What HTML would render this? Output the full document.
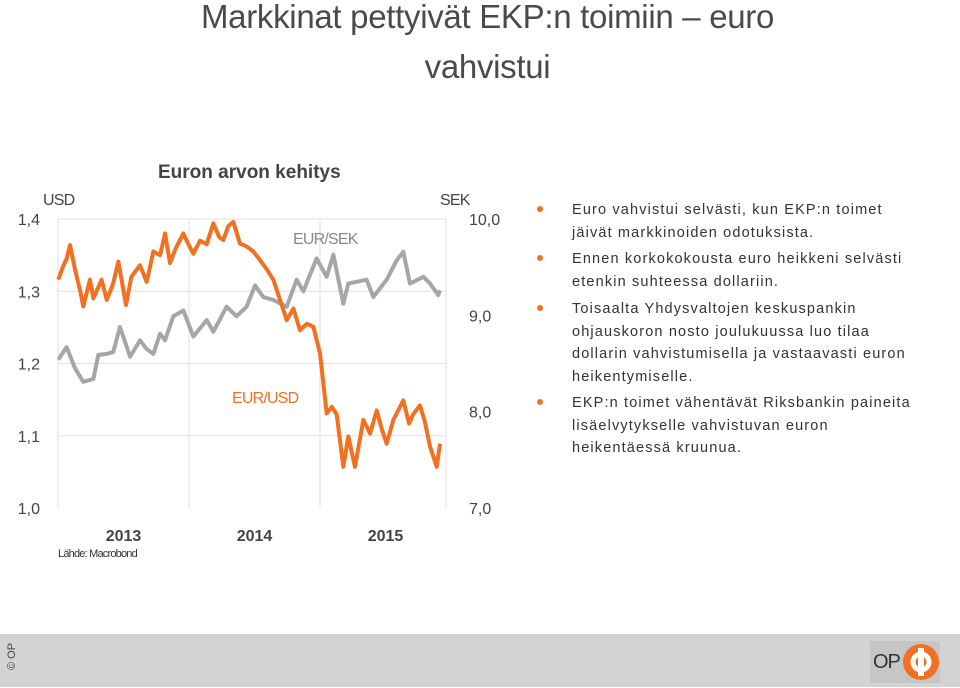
<!DOCTYPE html>
<html><head><meta charset="utf-8"><style>
body{margin:0;width:960px;height:688px;background:#fff;position:relative;overflow:hidden;font-family:"Liberation Sans",sans-serif;}
.abs{position:absolute;}
.title{left:0;width:975px;text-align:center;font-size:33px;color:#4a4a4a;line-height:50px;letter-spacing:-0.3px}
.bl{position:absolute;left:572px;font-size:14.5px;color:#333;line-height:22.5px;width:385px;letter-spacing:1.15px;white-space:nowrap}
.dot{position:absolute;left:537px;width:6px;height:6px;border-radius:3px;background:#f37021}
</style></head><body>
<div class="abs title" style="top:-8px">Markkinat pettyivät EKP:n toimiin – euro<br>vahvistui</div>
<div class="abs" style="left:158px;top:162px;font-size:19px;font-weight:bold;color:#444">Euron arvon kehitys</div>
<svg class="abs" style="left:0;top:0" width="530" height="570" id="chart"></svg>
<div class="dot" style="top:206px"></div>
<div class="bl" style="top:199px">Euro vahvistui selvästi, kun EKP:n toimet<br>jäivät markkinoiden odotuksista.</div>
<div class="dot" style="top:255px"></div>
<div class="bl" style="top:248px">Ennen korkokokousta euro heikkeni selvästi<br>etenkin suhteessa dollariin.</div>
<div class="dot" style="top:305px"></div>
<div class="bl" style="top:298px">Toisaalta Yhdysvaltojen keskuspankin<br>ohjauskoron nosto joulukuussa luo tilaa<br>dollarin vahvistumisella ja vastaavasti euron<br>heikentymiselle.</div>
<div class="dot" style="top:399px"></div>
<div class="bl" style="top:392px">EKP:n toimet vähentävät Riksbankin paineita<br>lisäelvytykselle vahvistuvan euron<br>heikentäessä kruunua.</div>
<div class="abs" style="left:0;top:634px;width:960px;height:53px;background:#d3d3d3"></div>
<div class="abs" style="left:6px;top:670px;transform:rotate(-90deg);transform-origin:left top;font-size:11px;color:#444;white-space:nowrap">© OP</div>
<div class="abs" style="left:870px;top:641px;width:70px;height:42px;background:#c6c6c6">
<span class="abs" style="left:3px;top:10px;font-size:20px;color:#333;letter-spacing:-1px">OP</span>
<svg class="abs" style="left:32px;top:2px" width="38" height="38"><circle cx="19" cy="19" r="18" fill="#f37021"/><rect x="16" y="5" width="6" height="28" fill="#fff"/><circle cx="19" cy="19" r="8" fill="none" stroke="#fff" stroke-width="5"/></svg></div>
<script>
const usdT=[0.002,0.04,0.066,0.092,0.13,0.17,0.193,0.244,0.27,0.333,0.372,0.42,0.461,0.519,0.56,0.626,0.677,0.728,0.779,0.817,0.855,0.9,0.957,0.982,1.033,1.084,1.135,1.186,1.23,1.262,1.3,1.338,1.389,1.44,1.491,1.542,1.595,1.644,1.695,1.746,1.797,1.847,1.9,1.949,2.0,2.051,2.09,2.127,2.178,2.216,2.267,2.331,2.382,2.433,2.47,2.509,2.56,2.636,2.68,2.712,2.763,2.8,2.84,2.891,2.916];
const usdV=[1.316,1.335,1.345,1.364,1.33,1.3,1.279,1.316,1.29,1.316,1.288,1.31,1.341,1.281,1.32,1.336,1.313,1.355,1.35,1.38,1.339,1.36,1.38,1.37,1.352,1.37,1.365,1.394,1.375,1.371,1.39,1.396,1.366,1.362,1.355,1.343,1.33,1.316,1.288,1.26,1.276,1.246,1.255,1.251,1.214,1.131,1.14,1.13,1.057,1.099,1.057,1.122,1.103,1.135,1.11,1.089,1.122,1.149,1.117,1.13,1.142,1.12,1.085,1.057,1.089];
const sekT=[0.002,0.066,0.13,0.193,0.244,0.27,0.308,0.372,0.422,0.473,0.55,0.626,0.677,0.728,0.779,0.817,0.88,0.957,1.033,1.135,1.186,1.287,1.363,1.44,1.504,1.567,1.644,1.746,1.822,1.873,1.974,2.051,2.102,2.178,2.216,2.356,2.407,2.509,2.585,2.636,2.687,2.789,2.84,2.903,2.916];
const sekV=[8.54,8.67,8.45,8.31,8.33,8.34,8.59,8.6,8.62,8.88,8.57,8.74,8.65,8.6,8.81,8.74,8.99,9.05,8.78,8.95,8.83,9.09,8.99,9.09,9.31,9.19,9.16,9.09,9.37,9.25,9.59,9.4,9.63,9.12,9.33,9.37,9.19,9.37,9.57,9.66,9.33,9.4,9.33,9.21,9.26];
const leftTicks=["1,0","1,1","1,2","1,3","1,4"];
const rightTicks=["7,0","8,0","9,0","10,0"];
const years=["2013","2014","2015"];
const X0=58,YW=131,YT=219,YB=508;
const x=t=>X0+t*YW;
const yL=v=>YB-(v-1.0)/0.4*(YB-YT);
const yR=v=>YB-(v-7)/3*(YB-YT);
const svg=document.getElementById('chart');
const NS='http://www.w3.org/2000/svg';
function mk(tag,attrs){const e=document.createElementNS(NS,tag);for(const k in attrs)e.setAttribute(k,attrs[k]);svg.appendChild(e);return e;}
for(let i=1;i<=4;i++){const g=mk('line',{x1:X0,x2:X0+3*YW-5,y1:yL(1+i*0.1),y2:yL(1+i*0.1),stroke:'#e2e2e2','stroke-width':1});

}
for(let i=0;i<4;i++){const xx=i==3?X0+3*YW-5:X0+i*YW;const g=mk('line',{x1:xx,x2:xx,y1:YT,y2:YB,stroke:'#e2e2e2','stroke-width':1});

}
leftTicks.forEach((s,i)=>{const t=mk('text',{x:40,y:yL(1+i*0.1)+6,'text-anchor':'end','font-size':16,fill:'#444'});t.textContent=s;

});
rightTicks.forEach((s,i)=>{const t=mk('text',{x:469,y:yR(7+i)+6,'font-size':16,fill:'#444'});t.textContent=s;

});
years.forEach((s,i)=>{const t=mk('text',{x:X0+(i+0.5)*YW,y:541,'text-anchor':'middle','font-size':16,'font-weight':'bold',fill:'#444'});t.textContent=s;

});
function lbl(txt,xx,yy,fs,col,nm,w){const t=mk('text',{x:xx,y:yy,'font-size':fs,fill:col,'letter-spacing':-0.8});if(w)t.setAttribute('font-weight',w);t.textContent=txt;

}
lbl('USD',43,205,16,'#444','left-axis-unit');
lbl('SEK',440,205,16,'#444','right-axis-unit');
lbl('EUR/SEK',293,244,16,'#888','eur-sek-label');
lbl('EUR/USD',232,403,16,'#f37021','eur-usd-label');
lbl('Lähde: Macrobond',58,557,11,'#333','source-note');
const pg=mk('polyline',{points:sekT.map((t,i)=>x(t)+','+yR(sekV[i])).join(' '),fill:'none',stroke:'#a6a6a6','stroke-width':4,'stroke-linejoin':'round'});


const po=mk('polyline',{points:usdT.map((t,i)=>x(t)+','+yL(usdV[i])).join(' '),fill:'none',stroke:'#f37021','stroke-width':4,'stroke-linejoin':'round'});


</script>
</body></html>
